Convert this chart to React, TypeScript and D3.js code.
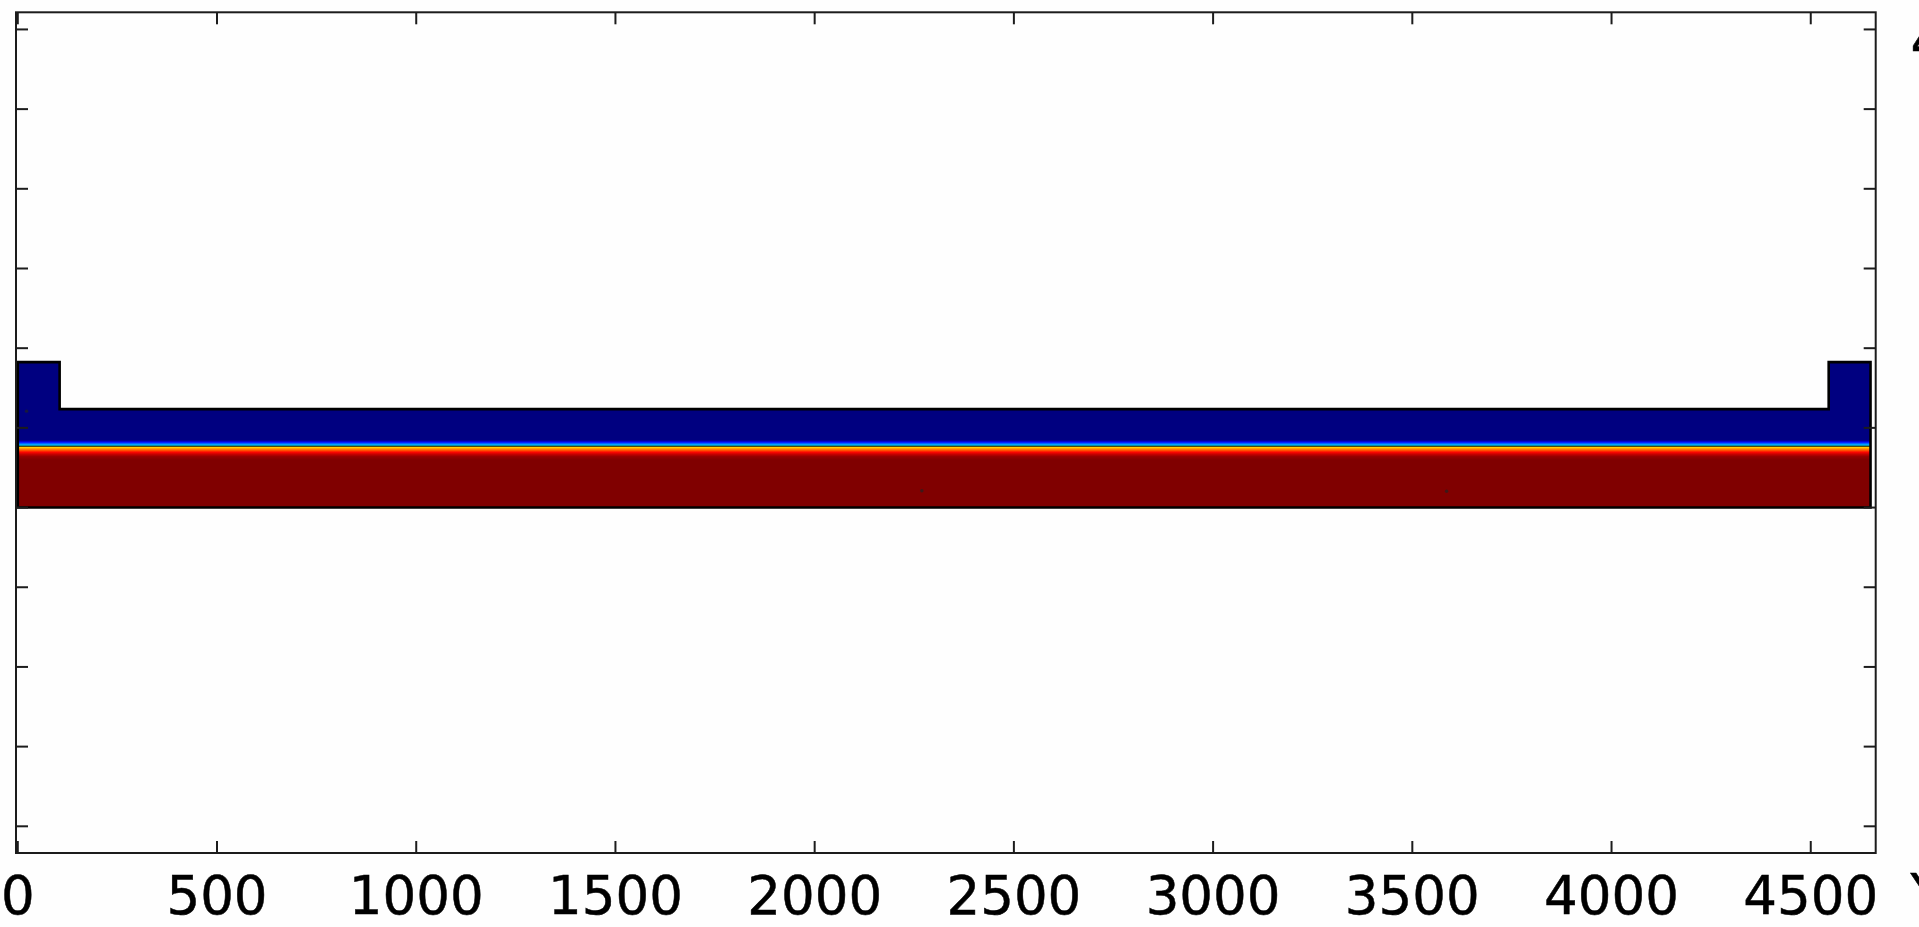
import React from 'react';
import * as d3 from 'd3';

// ---- data ----
const xTicks = [0, 500, 1000, 1500, 2000, 2500, 3000, 3500, 4000, 4500];
const yTicks = [-800, -600, -400, -200, 0, 200, 400, 600, 800, 1000, 1200];
const xDomain = [-4.5, 4663];
const yDomain = [-867, 1243];

// domain outline (x, y)
const outlineX = [0, 4650, 4650, 4545, 4545, 105, 105, 0];
const outlineY = [0, 0, 365, 365, 247, 247, 365, 365];

// vertical profile of the field (y position, normalised value)
const profileY = [0, 120, 128, 134, 139, 143, 147, 151, 154, 154, 156, 158, 161, 164, 167, 170, 250, 365];
const profileV = [1, 1, 0.98, 0.93, 0.87, 0.8, 0.74, 0.67, 0.63, 0.37, 0.34, 0.29, 0.22, 0.14, 0.05, 0, 0, 0];
const boundaryY = 154;

// small dark mesh artefacts
const dotX = [22, 2269, 3586];
const dotY = [242, 42, 41];

const jet = d3
  .scaleLinear<string>()
  .domain([0, 0.125, 0.375, 0.625, 0.875, 1])
  .range(['#000080', '#0000ff', '#00ffff', '#ffff00', '#ff0000', '#800000'])
  .interpolate(d3.interpolateRgb);

export default function App() {
  const W = 1919;
  const H = 927;
  const left = 16, right = 1875.7, top = 12.3, bottom = 853;
  const x = d3.scaleLinear().domain(xDomain).range([left, right]);
  const y = d3.scaleLinear().domain(yDomain).range([bottom, top]);
  const tickLen = 12;
  const font = '"DejaVu Sans", sans-serif';
  const lineCol = '#1c1c1c';
  const lw = 2;

  const pts: [number, number][] = outlineX.map((v, i) => [x(v), y(outlineY[i])]);
  const path = d3.line()(pts) + 'Z';
  const maxY = d3.max(outlineY) as number;

  return (
    <svg
      width={W}
      height={H}
      style={{ position: 'fixed', left: 0, top: 0, background: '#fefefe' }}
    >
      <defs>
        <linearGradient
          id="field"
          gradientUnits="userSpaceOnUse"
          x1={0}
          x2={0}
          y1={y(0)}
          y2={y(maxY)}
        >
          {profileY.map((py, i) => (
            <stop key={i} offset={py / maxY} stopColor={jet(profileV[i])} />
          ))}
        </linearGradient>
      </defs>
      <rect x={0} y={0} width={W} height={H} fill="#fefefe" />

      {/* field domain */}
      <path d={path} fill="url(#field)" stroke="none" />
      <line
        x1={x(0)}
        x2={x(4650)}
        y1={y(boundaryY)}
        y2={y(boundaryY)}
        stroke="#111"
        strokeWidth={1.4}
        strokeOpacity={0.75}
      />
      {dotX.map((dx, i) => (
        <circle key={i} cx={x(dx)} cy={y(dotY[i])} r={1.7} fill="#222" opacity={0.7} />
      ))}
      <path d={path} fill="none" stroke="#000" strokeWidth={2.6} />

      {/* frame */}
      <rect
        x={left}
        y={top}
        width={right - left}
        height={bottom - top}
        fill="none"
        stroke={lineCol}
        strokeWidth={lw}
      />
      {xTicks.map((t) => (
        <g key={'x' + t}>
          <line x1={x(t)} x2={x(t)} y1={bottom} y2={bottom - tickLen} stroke={lineCol} strokeWidth={lw} />
          <line x1={x(t)} x2={x(t)} y1={top} y2={top + tickLen} stroke={lineCol} strokeWidth={lw} />
          <text
            x={x(t)}
            y={914}
            textAnchor="middle"
            fontFamily={font}
            fontSize={53}
            fill="#000"
            stroke="#000"
            strokeWidth={0.5}
          >
            {t}
          </text>
        </g>
      ))}
      {yTicks.map((t) => (
        <g key={'y' + t}>
          <line x1={left} x2={left + tickLen} y1={y(t)} y2={y(t)} stroke={lineCol} strokeWidth={lw} />
          <line x1={right} x2={right - tickLen} y1={y(t)} y2={y(t)} stroke={lineCol} strokeWidth={lw} />
        </g>
      ))}

      {/* labels clipped at the right edge, as in the source */}
      <text x={1910.5} y={60} fontFamily={font} fontSize={53} fill="#000" stroke="#000" strokeWidth={0.5}>
        4
      </text>
      <text x={1910.5} y={912} fontFamily={font} fontSize={53} fill="#000" stroke="#000" strokeWidth={0.5}>
        Y
      </text>
    </svg>
  );
}
